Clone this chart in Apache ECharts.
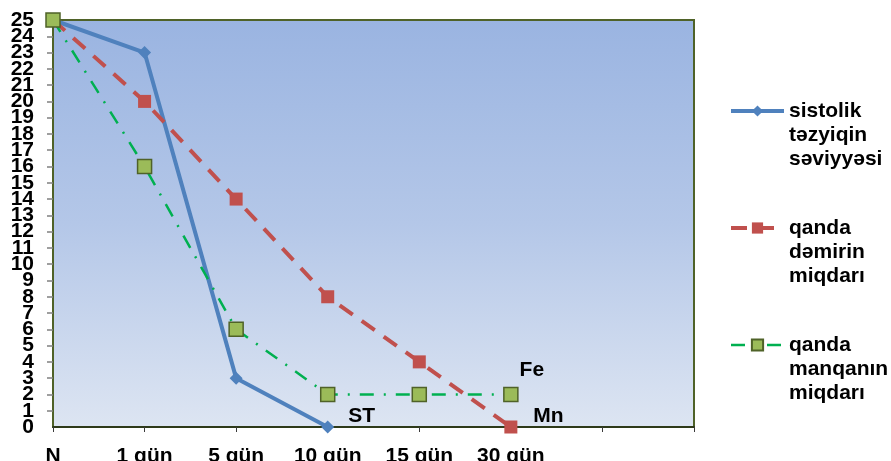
<!DOCTYPE html>
<html>
<head>
<meta charset="utf-8">
<script src="https://cdn.jsdelivr.net/npm/echarts@6/dist/echarts.min.js"></script>
<style>
  html, body { margin: 0; padding: 0; background: #fff; }
  #chart { width: 891px; height: 461px; }
</style>
</head>
<body>
<div id="chart"></div>
<script>
// Time points (two trailing empty slots keep the axis extent)
const categories = ['N', '1 gün', '5 gün', '10 gün', '15 gün', '30 gün', '', ''];
// Series values
const sistolik = [25, 23, 3, 0];
const demir = [25, 20, 14, 8, 4, 0];
const manqan = [25, 16, 6, 2, 2, 2];
// Series names
const names = ['sistolik\ntəzyiqin\nsəviyyəsi', 'qanda\ndəmirin\nmiqdarı', 'qanda\nmanqanın\nmiqdarı'];
// Point annotations: [series index, point index, text]
const notes = [[0, 3, 'ST'], [2, 5, 'Fe'], [1, 5, 'Mn']];
// Value range of the vertical axis
const yMin = 0, yMax = 25, yStep = 1;

const FONT = '"Liberation Sans", Arial, sans-serif';
const noteStyle = {
  ST: { offset: [0, -11], distance: 14 },
  Fe: { offset: [0, -24], distance: 1 },
  Mn: { offset: [0, -11], distance: 16 }
};

function withNotes(values, si) {
  return values.map((v, i) => {
    const n = notes.find(x => x[0] === si && x[1] === i);
    if (!n) return v;
    const st = noteStyle[n[2]];
    return {
      value: v,
      label: {
        show: true, formatter: n[2], position: 'right',
        distance: st.distance, offset: st.offset,
        color: '#000', fontFamily: FONT, fontWeight: 'bold', fontSize: 21
      }
    };
  });
}

const lineColors = ['#4F81BD', '#C0504D', '#00B050'];
const lineWidths = [4, 4, 2.5];
const yLabel = {
  margin: 19, color: '#000', fontFamily: FONT, fontWeight: 'bold', fontSize: 21,
  lineHeight: 14, hideOverlap: false
};

const chart = echarts.init(document.getElementById('chart'), null, { renderer: 'canvas' });
chart.setOption({
  animation: false,
  grid: {
    left: 53, right: 197, top: 20, bottom: 34,
    outerBoundsMode: 'none',
    show: true,
    borderColor: '#4F6228', borderWidth: 2,
    backgroundColor: new echarts.graphic.LinearGradient(0, 0, 0, 1, [
      { offset: 0, color: '#9AB4E1' },
      { offset: 0.5, color: '#B4C7E8' },
      { offset: 1, color: '#DDE5F2' }
    ])
  },
  legend: {
    orient: 'vertical',
    left: 729, top: 51,
    padding: 0,
    itemWidth: 53, itemHeight: 14, itemGap: -3,
    data: names.map((n, i) => ({ name: n, lineStyle: { width: lineWidths[i], color: lineColors[i] } })),
    // two blank lines above keep the first text line level with the icon
    formatter: name => '\n\n' + name,
    textStyle: {
      fontFamily: FONT, fontWeight: 'bold', fontSize: 21, color: '#000',
      lineHeight: 24
    }
  },
  xAxis: {
    type: 'category',
    data: categories,
    boundaryGap: false,
    axisLine: { lineStyle: { color: '#2E3A1A', width: 2 } },
    axisTick: { show: true, length: 5, lineStyle: { color: '#3A3A3A' } },
    axisLabel: { margin: 19, interval: 0, color: '#000', fontFamily: FONT, fontWeight: 'bold', fontSize: 21 },
    splitLine: { show: false }
  },
  yAxis: [
    {
      // main axis: line, every tick and the inner labels
      type: 'value', position: 'left',
      min: yMin, max: yMax, interval: yStep,
      axisLine: { show: true, lineStyle: { color: '#4F6228', width: 2 } },
      axisTick: { show: true, length: 6, lineStyle: { color: '#808080', width: 1.5 } },
      axisLabel: Object.assign({ showMinLabel: false, showMaxLabel: false }, yLabel),
      splitLine: { show: false }
    },
    {
      // companion axis carrying only the end labels
      type: 'value', position: 'left',
      min: yMin, max: yMax, interval: yMax - yMin,
      axisLine: { show: false }, axisTick: { show: false },
      axisLabel: Object.assign({ showMinLabel: true, showMaxLabel: true }, yLabel),
      splitLine: { show: false }
    }
  ],
  series: [
    {
      name: names[0], type: 'line', data: withNotes(sistolik, 0),
      clip: false,
      symbol: 'diamond', symbolSize: 13,
      lineStyle: { color: lineColors[0], width: lineWidths[0] },
      itemStyle: { color: '#4F81BD' }
    },
    {
      name: names[1], type: 'line', data: withNotes(demir, 1),
      clip: false,
      symbol: 'rect', symbolSize: 13,
      lineStyle: { color: lineColors[1], width: lineWidths[1], type: [16, 11] },
      itemStyle: { color: '#C0504D' }
    },
    {
      name: names[2], type: 'line', data: withNotes(manqan, 2),
      clip: false,
      symbol: 'rect', symbolSize: 14,
      lineStyle: { color: lineColors[2], width: lineWidths[2], type: [14, 10, 2, 10] },
      itemStyle: { color: '#9BBB59', borderColor: '#4F6228', borderWidth: 1.5 }
    }
  ]
});
</script>
</body>
</html>
